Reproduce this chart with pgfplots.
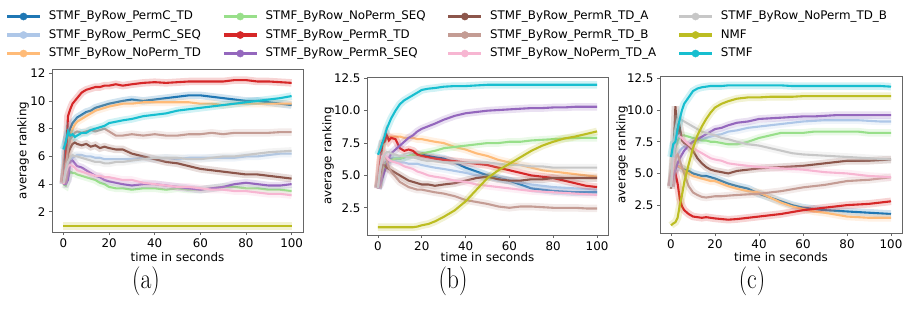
\documentclass[border=0pt]{standalone}
\usepackage{fontspec}
\newfontfamily\dv{DejaVu Sans}
\usepackage{pgfplots}
\usepackage{pgfplotstable}
\pgfplotsset{compat=1.18}
\definecolor{cct}{HTML}{1F77B4}
\definecolor{ccs}{HTML}{AEC7E8}
\definecolor{cnt}{HTML}{FFBB78}
\definecolor{cns}{HTML}{98DF8A}
\definecolor{crt}{HTML}{D62728}
\definecolor{crs}{HTML}{9467BD}
\definecolor{cra}{HTML}{8C564B}
\definecolor{crb}{HTML}{C49C94}
\definecolor{cna}{HTML}{F7B6D2}
\definecolor{cnb}{HTML}{C7C7C7}
\definecolor{cnmf}{HTML}{BCBD22}
\definecolor{cstmf}{HTML}{17BECF}

\pgfplotstableread{
t ct cs nt ns rt rs ra rb na nb nmf stmf
0 4.0 4.0 4.1 4.0 4.1 4.0 4.1 4.0 4.0 4.1 1 6.5
1 7.0 4.6 5.5 3.9 5.5 4.0 5.0 5.2 4.8 5.0 1 7.0
2 7.6 5.3 6.8 4.5 8.9 4.3 6.2 6.5 5.3 5.6 1 7.8
3 8.0 5.7 7.5 4.9 9.4 5.6 6.6 7.2 5.4 5.9 1 7.5
4 8.4 5.9 8.0 4.8 9.8 5.7 6.9 7.5 5.3 6.1 1 7.6
5 8.6 6.0 8.3 4.8 10.0 5.5 7.0 7.7 5.2 6.0 1 7.4
6 8.8 6.1 8.5 4.7 10.2 5.3 6.9 7.8 5.0 6.0 1 7.5
8 9.0 6.1 8.7 4.6 10.6 5.2 6.8 7.7 4.9 5.9 1 7.7
10 9.2 6.0 8.9 4.5 10.8 5.0 6.9 7.8 4.8 5.8 1 7.7
12 9.3 6.0 9.1 4.4 10.9 4.8 6.7 7.9 4.7 5.7 1 7.9
14 9.5 5.9 9.3 4.3 11.0 4.6 6.8 7.8 4.6 5.6 1 8.0
16 9.6 5.9 9.4 4.1 11.0 4.5 6.6 7.9 4.6 5.6 1 8.1
18 9.7 5.8 9.5 4.0 11.1 4.3 6.7 8.0 4.5 5.5 1 8.2
20 9.8 5.8 9.6 3.8 11.1 4.2 6.6 7.8 4.5 5.5 1 8.4
23 9.9 5.8 9.7 3.7 11.2 4.1 6.5 7.5 4.4 5.6 1 8.5
26 10.0 5.8 9.8 3.7 11.1 4.0 6.5 7.5 4.3 5.6 1 8.6
30 10.1 5.8 9.8 3.6 11.2 3.9 6.2 7.6 4.3 5.7 1 8.7
35 10.0 5.9 9.9 3.7 11.3 4.0 6.0 7.5 4.1 5.8 1 8.9
40 10.1 5.8 9.9 3.7 11.35 4.0 5.8 7.6 4.0 5.9 1 9.0
45 10.2 5.9 9.9 3.6 11.3 3.9 5.6 7.5 3.9 5.9 1 9.1
50 10.3 5.8 9.9 3.7 11.35 3.8 5.5 7.5 3.8 5.9 1 9.3
55 10.4 5.9 9.9 3.6 11.4 3.7 5.3 7.6 3.8 5.8 1 9.4
60 10.4 5.9 9.8 3.6 11.4 3.6 5.1 7.6 3.7 5.8 1 9.5
65 10.3 5.9 9.8 3.7 11.4 3.7 5.0 7.7 3.6 5.9 1 9.6
70 10.2 5.9 9.7 3.8 11.4 3.8 4.9 7.6 3.6 6.0 1 9.7
75 10.1 5.9 9.8 3.8 11.5 4.0 4.8 7.7 3.5 6.0 1 9.8
80 10.0 6.0 9.8 3.7 11.5 4.1 4.7 7.7 3.5 6.1 1 9.9
85 10.0 6.0 9.8 3.7 11.4 4.0 4.7 7.7 3.4 6.2 1 10.0
90 9.9 6.1 9.8 3.6 11.4 3.9 4.6 7.7 3.3 6.3 1 10.1
95 9.8 6.2 9.8 3.6 11.35 3.9 4.5 7.75 3.3 6.35 1 10.2
100 9.7 6.2 9.8 3.5 11.3 4.0 4.4 7.75 3.2 6.4 1 10.35
}\dataA

\pgfplotstableread{
t ct cs nt ns rt rs ra rb na nb nmf stmf
0 4.0 4.0 4.1 4.0 4.0 4.0 4.1 4.1 4.0 4.0 1 6.6
1 4.8 4.8 6.0 4.5 6.0 4.3 5.0 5.5 5.5 5.5 1 7.0
2 5.5 5.5 7.2 5.3 7.5 4.8 5.8 6.5 6.5 6.3 1 7.5
3 5.9 5.9 7.6 5.8 7.6 5.3 5.8 6.6 6.6 6.6 1 8.0
4 6.1 6.0 7.8 6.0 8.1 5.8 5.6 6.2 6.4 6.8 1 8.6
5 6.2 6.0 8.0 6.2 7.7 6.3 5.5 5.6 6.2 6.8 1 9.0
6 6.3 6.1 8.0 6.2 7.9 6.7 5.4 5.3 6.1 6.7 1 9.4
8 6.3 6.1 8.0 6.3 7.8 7.0 5.2 4.9 6.0 6.6 1 10.0
10 6.3 6.0 8.0 6.3 7.1 7.3 5.0 4.5 5.9 6.5 1 10.5
12 6.4 6.0 7.9 6.4 6.9 7.6 4.8 4.3 5.7 6.5 1 10.8
14 6.5 5.9 7.9 6.5 7.0 7.9 4.6 4.1 5.6 6.4 1 11.0
16 6.6 5.9 7.9 6.6 6.9 8.1 4.5 4.0 5.5 6.4 1 11.2
18 6.6 5.9 7.8 6.6 6.6 8.4 4.4 3.9 5.3 6.3 1.05 11.4
20 6.6 5.8 7.8 6.7 6.5 8.6 4.3 3.9 5.2 6.2 1.15 11.6
23 6.5 5.7 7.7 6.8 6.4 8.8 4.3 3.8 5.0 6.1 1.25 11.7
26 6.4 5.6 7.6 6.9 6.3 9.0 4.2 3.7 4.9 6.1 1.45 11.75
30 6.3 5.5 7.5 7.1 6.2 9.3 4.3 3.6 4.8 6.0 1.8 11.85
35 6.0 5.35 7.2 7.2 6.1 9.6 4.4 3.4 4.6 6.0 2.3 11.9
40 5.6 5.2 7.0 7.3 6.0 9.8 4.6 3.1 4.5 6.0 3.0 11.9
45 5.3 5.0 6.7 7.4 5.9 9.9 4.8 2.95 4.3 6.0 3.9 11.95
50 5.0 4.9 6.5 7.5 5.8 10.0 4.9 2.8 4.2 6.0 4.8 12.0
55 4.8 4.75 6.2 7.5 5.6 10.05 4.7 2.6 4.1 5.9 5.4 12.0
60 4.6 4.6 6.0 7.6 5.4 10.1 4.6 2.5 4.0 5.8 5.9 12.0
65 4.3 4.45 5.8 7.6 5.2 10.15 4.6 2.6 3.9 5.8 6.4 12.0
70 4.0 4.3 5.6 7.7 5.0 10.2 4.7 2.6 3.8 5.7 6.9 12.0
75 3.9 4.2 5.4 7.75 4.9 10.2 4.7 2.55 3.75 5.7 7.3 12.0
80 3.8 4.1 5.3 7.8 4.8 10.25 4.8 2.5 3.7 5.6 7.6 12.0
85 3.75 4.05 5.2 7.85 4.6 10.25 4.8 2.5 3.65 5.6 7.85 12.0
90 3.7 4.0 5.1 7.9 4.4 10.3 4.8 2.5 3.6 5.6 8.0 12.0
95 3.7 3.95 5.0 7.9 4.2 10.3 4.8 2.45 3.55 5.6 8.2 12.0
100 3.7 3.9 4.9 7.9 4.1 10.3 4.8 2.45 3.5 5.6 8.4 12.0
}\dataB

\pgfplotstableread{
t ct cs nt ns rt rs ra rb na nb nmf stmf
0 4.0 4.0 4.0 4.0 4.0 4.0 3.8 4.0 4.0 3.9 0.9 6.3
1 5.0 5.5 5.0 6.0 5.0 4.8 6.0 5.5 6.0 7.0 1.05 7.3
2 5.5 6.2 5.5 7.0 5.0 5.3 10.3 6.3 7.5 8.5 1.15 7.5
3 5.6 6.5 5.6 7.6 4.2 5.8 8.0 6.5 8.0 9.3 1.5 8.5
4 5.5 6.8 5.5 7.9 3.0 6.2 8.6 6.0 7.9 9.3 2.5 9.3
5 5.4 7.0 5.4 8.0 2.4 6.5 7.6 5.5 7.8 9.2 3.3 10.0
6 5.3 7.1 5.2 8.0 2.1 6.8 7.4 5.0 7.6 9.1 4.3 10.5
8 5.2 7.3 5.0 7.9 1.8 7.2 7.2 4.0 7.3 8.9 5.7 11.0
10 5.0 7.5 4.8 7.8 1.6 7.5 6.8 3.5 7.0 8.7 7.0 11.5
12 4.9 7.6 4.7 7.7 1.55 7.7 6.2 3.3 6.8 8.5 8.0 11.7
14 4.8 7.7 4.6 7.6 1.5 7.9 5.8 3.15 6.6 8.3 8.7 11.8
16 4.8 7.8 4.5 7.6 1.55 8.1 5.5 3.1 6.4 8.2 9.3 11.85
18 4.7 7.9 4.4 7.5 1.5 8.3 5.3 3.15 6.2 8.1 9.8 11.9
20 4.6 8.0 4.4 7.5 1.45 8.5 5.2 3.2 6.1 8.0 10.2 11.9
23 4.4 8.1 4.2 7.4 1.4 8.6 5.1 3.2 6.0 7.8 10.5 11.9
26 4.2 8.3 4.0 7.3 1.35 8.8 5.0 3.25 5.8 7.7 10.7 11.95
30 4.0 8.4 3.8 7.3 1.4 9.0 5.2 3.3 5.7 7.5 10.9 11.95
35 3.8 8.6 3.6 7.5 1.5 9.1 5.3 3.35 5.6 7.3 11.0 11.95
40 3.4 8.7 3.5 7.8 1.6 9.3 5.4 3.4 5.5 7.2 11.0 11.95
45 3.1 8.8 3.1 8.0 1.7 9.35 5.45 3.5 5.45 7.0 11.05 11.95
50 2.8 8.9 2.7 8.2 1.8 9.4 5.5 3.6 5.4 6.8 11.05 11.95
55 2.5 9.0 2.4 8.2 1.95 9.45 5.55 3.75 5.35 6.6 11.05 11.9
60 2.3 9.1 2.2 8.2 2.1 9.5 5.6 3.9 5.3 6.5 11.1 11.9
65 2.2 9.15 2.0 8.3 2.2 9.5 5.7 4.0 5.2 6.45 11.1 11.9
70 2.1 9.2 1.9 8.3 2.3 9.55 5.8 4.1 5.1 6.4 11.1 11.9
75 2.05 9.2 1.75 8.3 2.4 9.6 5.9 4.25 5.05 6.35 11.1 11.9
80 2.0 9.2 1.6 8.3 2.5 9.6 6.0 4.4 5.0 6.3 11.1 11.9
85 1.95 9.2 1.55 8.3 2.55 9.6 6.0 4.45 4.9 6.25 11.1 11.9
90 1.9 9.15 1.5 8.2 2.6 9.6 6.0 4.5 4.8 6.2 11.1 11.9
95 1.85 9.1 1.5 8.2 2.7 9.6 6.05 4.6 4.75 6.15 11.1 11.9
100 1.8 9.1 1.5 8.2 2.8 9.6 6.1 4.7 4.7 6.1 11.1 11.85
}\dataC

\newcommand{\ser}[3]{%
  \addplot[color=#3, line width=7.5bp, opacity=0.2, forget plot] table[x=t,y=#2]{#1};
  \addplot[color=#3, line width=2.1bp, forget plot] table[x=t,y=#2]{#1};
}
\newcommand{\allser}[1]{%
  \ser{#1}{ct}{cct}\ser{#1}{cs}{ccs}\ser{#1}{nt}{cnt}\ser{#1}{ns}{cns}%
  \ser{#1}{rt}{crt}\ser{#1}{rs}{crs}\ser{#1}{ra}{cra}\ser{#1}{rb}{crb}%
  \ser{#1}{na}{cna}\ser{#1}{nb}{cnb}\ser{#1}{nmf}{cnmf}\ser{#1}{stmf}{cstmf}%
}
\newcommand{\fnt}{\dv\fontsize{11.9}{14}\selectfont}

\pgfplotsset{
  myax/.style={
    scale only axis, xmin=-5, xmax=105, xtick={0,20,...,100},
    tick pos=left, tick align=outside, major tick length=3bp,
    axis line style={black!60, line width=0.8bp},
    every tick/.append style={black!60, line width=0.8bp},
    tick label style={font=\fnt},
    /pgf/number format/assume math mode=true,
    label style={font=\fnt},
    xlabel={time in seconds}, ylabel={average ranking},
  },
}

\begin{document}
\begin{tikzpicture}
\path[use as bounding box] (0,0) rectangle (904bp,-310bp);

\begin{axis}[myax, at={(52bp,-232bp)}, anchor=south west,
  width=251bp, height=163bp, ymin=0.55, ymax=12.3, ytick={2,4,...,12},
  xlabel style={at={(axis description cs:0.5,-0.178)}, anchor=base},
  ylabel style={at={(axis description cs:-0.1155,0.5)}, anchor=center},
  legend columns=4, legend cell align=left,
  legend style={at={(-0.187,1.36)}, anchor=north west, draw=none, fill=none,
    inner sep=0pt, font=\fnt, row sep=6.5bp, column sep=7bp,
    nodes={inner sep=0pt, text height=9bp, text depth=3bp},
    /tikz/every even column/.append style={column sep=21bp}},
  legend image code/.code={\draw[#1, line width=3.5bp] (0bp,0bp) -- (33bp,0bp);
    \fill[#1] (16.5bp,0bp) circle (3.6bp);}
]
\allser{\dataA}
\addlegendimage{color=cct}\addlegendentry{STMF\_ByRow\_PermC\_TD}
\addlegendimage{color=cns}\addlegendentry{STMF\_ByRow\_NoPerm\_SEQ}
\addlegendimage{color=cra}\addlegendentry{STMF\_ByRow\_PermR\_TD\_A}
\addlegendimage{color=cnb}\addlegendentry{STMF\_ByRow\_NoPerm\_TD\_B}
\addlegendimage{color=ccs}\addlegendentry{STMF\_ByRow\_PermC\_SEQ}
\addlegendimage{color=crt}\addlegendentry{STMF\_ByRow\_PermR\_TD}
\addlegendimage{color=crb}\addlegendentry{STMF\_ByRow\_PermR\_TD\_B}
\addlegendimage{color=cnmf}\addlegendentry{NMF}
\addlegendimage{color=cnt}\addlegendentry{STMF\_ByRow\_NoPerm\_TD}
\addlegendimage{color=crs}\addlegendentry{STMF\_ByRow\_PermR\_SEQ}
\addlegendimage{color=cna}\addlegendentry{STMF\_ByRow\_NoPerm\_TD\_A}
\addlegendimage{color=cstmf}\addlegendentry{STMF}
\end{axis}

\begin{axis}[myax, at={(367bp,-235bp)}, anchor=south west,
  width=241bp, height=158bp, ymin=0.4, ymax=12.6, ytick={2.5,5,...,12.5},
  yticklabel style={/pgf/number format/.cd, fixed, fixed zerofill, precision=1},
  xlabel style={at={(axis description cs:0.5,-0.165)}, anchor=base},
  ylabel style={at={(axis description cs:-0.1618,0.5)}, anchor=center}]
\allser{\dataB}
\end{axis}

\begin{axis}[myax, at={(660bp,-233bp)}, anchor=south west,
  width=242bp, height=156.5bp, ymin=0.3, ymax=12.65, ytick={2.5,5,...,12.5},
  yticklabel style={/pgf/number format/.cd, fixed, fixed zerofill, precision=1},
  xlabel style={at={(axis description cs:0.5,-0.179)}, anchor=base},
  ylabel style={at={(axis description cs:-0.157,0.5)}, anchor=center}]
\allser{\dataC}
\end{axis}

\node[xscale=0.82, transform shape] at (146bp,-281bp) {\fontsize{29}{32}\selectfont (a)};
\node[xscale=0.82, transform shape] at (453bp,-281bp) {\fontsize{29}{32}\selectfont (b)};
\node[xscale=0.82, transform shape] at (752bp,-281bp) {\fontsize{29}{32}\selectfont (c)};
\end{tikzpicture}
\end{document}
